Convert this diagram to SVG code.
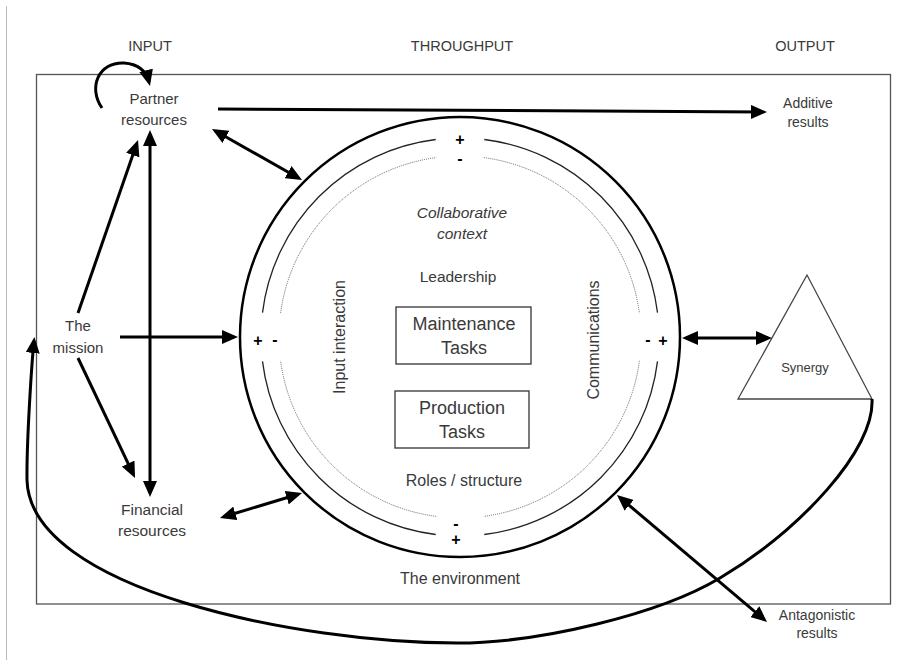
<svg xmlns="http://www.w3.org/2000/svg" width="901" height="660" viewBox="0 0 901 660">
<style>
.t{font-family:"Liberation Sans",Arial,sans-serif;fill:#3a3a3a;text-anchor:middle}
.s{font-family:"Liberation Sans",Arial,sans-serif;fill:#000;font-weight:bold;font-size:16px;text-anchor:middle}
.c{fill:none;stroke:#000;stroke-width:3}
.ring{fill:none;stroke:#222;stroke-width:1.3}
.dot{fill:none;stroke:#666;stroke-width:1;stroke-dasharray:1 1}
</style>
<defs>
<marker id="ah" viewBox="0 0 16 14" refX="12" refY="7" markerWidth="16" markerHeight="14" markerUnits="userSpaceOnUse" orient="auto-start-reverse">
<path d="M0,0 L16,7 L0,14 z" fill="#000"/>
</marker>
</defs>
<rect width="901" height="660" fill="#fff"/>
<line x1="6.5" y1="6" x2="6.5" y2="660" stroke="#bbb" stroke-width="1"/>
<rect id="environment-box" x="36.5" y="74.5" width="854" height="529.5" fill="none" stroke="#555" stroke-width="1.3"/>

<g id="headers">
<text class="t" x="150" y="51" font-size="14.5">INPUT</text>
<text class="t" x="462" y="51" font-size="14.5">THROUGHPUT</text>
<text class="t" x="805" y="51" font-size="14.5">OUTPUT</text>
</g>

<g id="circle">
<circle cx="460" cy="337" r="220" fill="none" stroke="#000" stroke-width="2.5"/>
<path class="ring" d="M657.5 361.3 A199 199 0 0 1 484.3 534.5 M435.7 534.5 A199 199 0 0 1 262.5 361.3 M262.5 312.7 A199 199 0 0 1 435.7 139.5 M484.3 139.5 A199 199 0 0 1 657.5 312.7"/>
<path class="dot" d="M639.4 360.9 A181 181 0 0 1 483.9 516.4 M436.1 516.4 A181 181 0 0 1 280.6 360.9 M280.6 313.1 A181 181 0 0 1 436.1 157.6 M483.9 157.6 A181 181 0 0 1 639.4 313.1"/>
<text class="s" x="460" y="145">+</text>
<text class="s" x="460" y="164">-</text>
<text class="s" x="258" y="346">+</text>
<text class="s" x="275" y="345">-</text>
<text class="s" x="648" y="345">-</text>
<text class="s" x="663" y="346">+</text>
<text class="s" x="456" y="529">-</text>
<text class="s" x="456" y="545">+</text>
<text class="t" x="462" y="218" font-size="15.5" font-style="italic">Collaborative</text>
<text class="t" x="462" y="239" font-size="15.5" font-style="italic">context</text>
<text class="t" x="458" y="282" font-size="15.5">Leadership</text>
<text class="t" x="464" y="486" font-size="16">Roles / structure</text>
<text class="t" font-size="16" transform="translate(345 337) rotate(-90)">Input interaction</text>
<text class="t" font-size="16" transform="translate(599 340) rotate(-90)">Communications</text>
</g>

<g id="maintenance">
<rect x="396" y="307" width="135" height="57" fill="none" stroke="#333" stroke-width="1.3"/>
<text class="t" x="464" y="330" font-size="18">Maintenance</text>
<text class="t" x="464" y="354" font-size="18">Tasks</text>
</g>
<g id="production">
<rect x="395" y="391" width="134" height="57" fill="none" stroke="#333" stroke-width="1.3"/>
<text class="t" x="462" y="414" font-size="18">Production</text>
<text class="t" x="462" y="438" font-size="18">Tasks</text>
</g>

<g id="partner">
<text class="t" x="154" y="104" font-size="15">Partner</text>
<text class="t" x="154" y="125" font-size="15">resources</text>
</g>
<g id="mission">
<text class="t" x="78" y="331" font-size="15">The</text>
<text class="t" x="78" y="353" font-size="15">mission</text>
</g>
<g id="financial">
<text class="t" x="152" y="515" font-size="15.5">Financial</text>
<text class="t" x="152" y="536" font-size="15.5">resources</text>
</g>
<g id="additive">
<text class="t" x="808" y="108" font-size="14">Additive</text>
<text class="t" x="808" y="127" font-size="14">results</text>
</g>
<g id="synergy">
<polygon points="807,275 738,399 872,399" fill="none" stroke="#444" stroke-width="1.3"/>
<text class="t" x="805" y="372" font-size="13">Synergy</text>
</g>
<g id="antagonistic">
<text class="t" x="817" y="620" font-size="14">Antagonistic</text>
<text class="t" x="817" y="638" font-size="14">results</text>
</g>
<g id="environment">
<text class="t" x="460" y="584" font-size="16">The environment</text>
</g>

<g id="connectors">
<path class="c" d="M102 108 C88 88 98 62 124 63 C138 64 146 70 149 82" marker-end="url(#ah)"/>
<line class="c" x1="218" y1="109" x2="763" y2="112" marker-end="url(#ah)"/>
<line class="c" x1="215.5" y1="131" x2="298.5" y2="178" marker-start="url(#ah)" marker-end="url(#ah)"/>
<line class="c" x1="120" y1="337" x2="234" y2="337" marker-end="url(#ah)"/>
<line class="c" x1="150" y1="134" x2="150" y2="493" marker-start="url(#ah)" marker-end="url(#ah)"/>
<line class="c" x1="78" y1="313" x2="136.7" y2="143.8" marker-end="url(#ah)"/>
<line class="c" x1="78" y1="358" x2="133.3" y2="474.4" marker-end="url(#ah)"/>
<line class="c" x1="223.8" y1="516.8" x2="298.2" y2="494.2" marker-start="url(#ah)" marker-end="url(#ah)"/>
<line class="c" x1="686" y1="338" x2="768" y2="338" marker-start="url(#ah)" marker-end="url(#ah)"/>
<line class="c" x1="620" y1="497.6" x2="764" y2="619.4" marker-start="url(#ah)" marker-end="url(#ah)"/>
<path class="c" d="M872 399 C875 450 800 530 720 578 C660 614 540 643 457 643 C300 643 30 590 27 480 C26.5 440 32 360 34 341" marker-end="url(#ah)"/>
</g>
</svg>
